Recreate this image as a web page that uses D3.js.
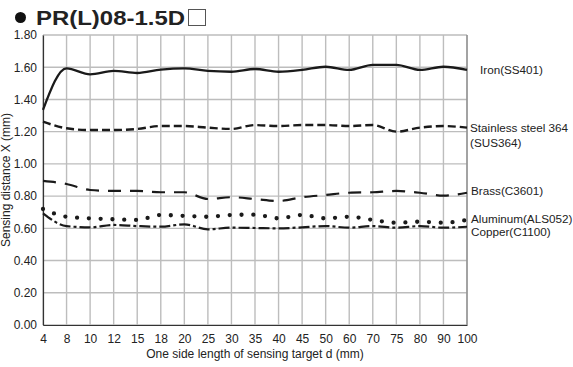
<!DOCTYPE html>
<html><head><meta charset="utf-8">
<script src="https://cdn.jsdelivr.net/npm/d3@7"></script>
<style>
body{margin:0;background:#fff;}
text{font-family:"Liberation Sans",Arial,sans-serif;fill:#222;}
</style></head><body>
<svg id="c" width="573" height="367"></svg>
<script>
const categories = ["4","8","10","12","15","18","20","25","30","35","40","45","50","60","70","75","80","90","100"];
const iron      = [1.335,1.593,1.556,1.577,1.564,1.585,1.593,1.577,1.572,1.589,1.572,1.583,1.603,1.583,1.614,1.614,1.583,1.603,1.583];
const stainless = [1.262,1.221,1.21,1.21,1.217,1.235,1.235,1.225,1.217,1.241,1.235,1.241,1.241,1.235,1.241,1.2,1.225,1.235,1.225];
const brass     = [0.894,0.875,0.838,0.832,0.832,0.824,0.824,0.782,0.793,0.782,0.770,0.793,0.807,0.821,0.824,0.832,0.821,0.803,0.821];
const aluminum  = [0.72,0.672,0.662,0.656,0.652,0.683,0.677,0.672,0.683,0.685,0.662,0.683,0.662,0.672,0.652,0.635,0.641,0.635,0.652];
const copper    = [0.693,0.614,0.606,0.621,0.614,0.61,0.625,0.594,0.604,0.602,0.6,0.606,0.614,0.604,0.614,0.604,0.614,0.604,0.61];
const yTicks = [0,0.2,0.4,0.6,0.8,1.0,1.2,1.4,1.6,1.8];
const title = "PR(L)08-1.5D";
const xTitle = "One side length of sensing target d (mm)";
const yTitle = "Sensing distance X (mm)";

const svg = d3.select("#c");
const L=43, R=467, T=35, B=325;
const x = d3.scalePoint().domain(categories).range([L,R]);
const y = d3.scaleLinear().domain([0,1.8]).range([B,T]);

// grid
const g = svg.append("g");
g.selectAll(".vg").data(categories).join("line")
  .attr("x1",d=>x(d)).attr("x2",d=>x(d)).attr("y1",T).attr("y2",B)
  .attr("stroke","#bdbdbd").attr("stroke-width",1.4);
g.selectAll(".hg").data(yTicks).join("line")
  .attr("x1",L).attr("x2",R).attr("y1",d=>y(d)).attr("y2",d=>y(d))
  .attr("stroke","#bdbdbd").attr("stroke-width",1.4);
svg.append("line").attr("x1",R).attr("x2",R).attr("y1",T).attr("y2",B).attr("stroke","#777").attr("stroke-width",1);

// axes
const xAxis = svg.append("g").attr("transform",`translate(0,${B})`)
  .call(d3.axisBottom(x).tickSize(0).tickPadding(9));
xAxis.select(".domain").attr("stroke","#333").attr("stroke-width",1.2);
xAxis.selectAll("text").style("font-size","12px").attr("fill","#222");
const yAxis = svg.append("g").attr("transform",`translate(${L},0)`)
  .call(d3.axisLeft(y).tickValues(yTicks).tickFormat(d3.format(".2f")).tickSize(0).tickPadding(6));
yAxis.select(".domain").attr("stroke","#333").attr("stroke-width",1.2);
yAxis.selectAll("text").style("font-size","12px").attr("fill","#222");

// lines
const line = d3.line().x((d,i)=>x(categories[i])).y(d=>y(d)).curve(d3.curveMonotoneX);
const styles = [
  {data:iron, dash:null, w:2.3, cap:"butt"},
  {data:stainless, dash:"8,4", w:2.4, cap:"butt"},
  {data:brass, dash:"13,9", w:2.2, cap:"butt"},
  {data:aluminum, dash:"0,11.8", w:4.3, cap:"round"},
  {data:copper, dash:"11,3,3,3", w:2.2, cap:"butt"}
];
styles.forEach(s=>{
  svg.append("path").attr("d",line(s.data)).attr("fill","none")
    .attr("stroke","#1a1a1a").attr("stroke-width",s.w)
    .attr("stroke-dasharray",s.dash).attr("stroke-linecap",s.cap);
});

// series labels
const lab = [
  {t:"Iron(SS401)", x:480, y:74},
  {t:"Stainless steel 364", x:470, y:132},
  {t:"(SUS364)", x:470, y:147},
  {t:"Brass(C3601)", x:471, y:195},
  {t:"Aluminum(ALS052)", x:471, y:223},
  {t:"Copper(C1100)", x:471, y:236}
];
svg.selectAll(".lab").data(lab).join("text").attr("x",d=>d.x).attr("y",d=>d.y)
  .style("font-size","11.7px").text(d=>d.t);

// titles
svg.append("text").attr("x",255).attr("y",358).attr("text-anchor","middle")
  .style("font-size","12px").text(xTitle);
svg.append("text").attr("transform","translate(10,180) rotate(-90)").attr("text-anchor","middle")
  .style("font-size","12px").text(yTitle);

svg.append("circle").attr("cx",20.5).attr("cy",17.5).attr("r",5.5).attr("fill","#111");
svg.append("text").attr("x",36).attr("y",25).style("font-size","21px").style("font-weight","bold")
  .attr("textLength",149).attr("lengthAdjust","spacingAndGlyphs").attr("fill","#111").text(title);
svg.append("rect").attr("x",188.5).attr("y",9.5).attr("width",17).attr("height",16)
  .attr("fill","none").attr("stroke","#555").attr("stroke-width",1);
</script></body></html>
